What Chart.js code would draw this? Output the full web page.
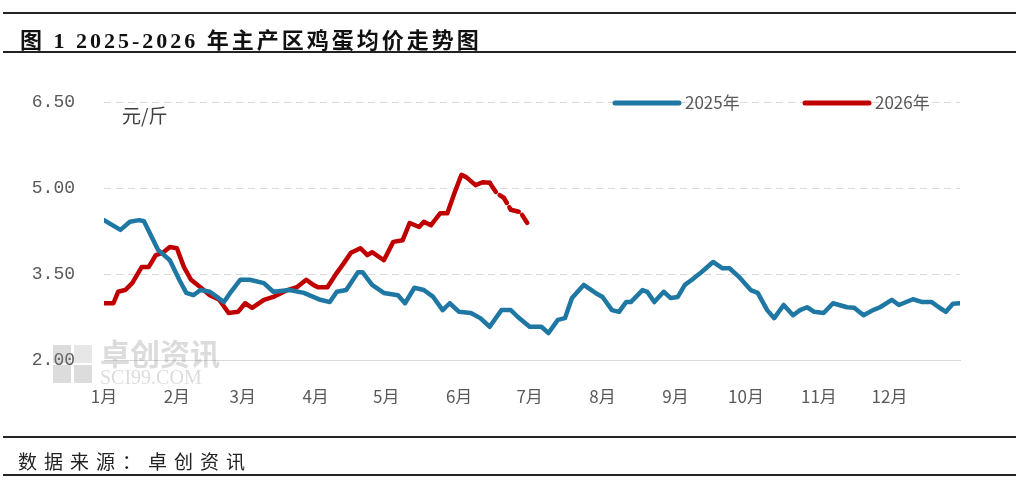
<!DOCTYPE html>
<html>
<head>
<meta charset="utf-8">
<script src="https://cdn.jsdelivr.net/npm/chart.js@4.4.1/dist/chart.umd.min.js"></script>
<style>
  body { margin: 0; background: #fff; }
  #wrap { position: relative; width: 1016px; height: 484px; overflow: hidden; }
  #wrap canvas { position: absolute; left: 0; top: 0; }
  .rule { position: absolute; left: 3px; right: 0; height: 2px; background: #222; }
  #title { position: absolute; left: 20px; top: 22px; font: bold 22px "Liberation Serif", "Noto Sans CJK SC", serif; letter-spacing: 3px; color: #111; }
  #source { position: absolute; left: 18px; top: 447px; font: 19px "Noto Sans CJK SC", sans-serif; letter-spacing: 7px; color: #222; }
</style>
</head>
<body>
<div id="wrap">
  <canvas id="myChart" width="1016" height="484"></canvas>
  <div class="rule" style="top:12px"></div>
  <div id="title">图 1 2025-2026 年主产区鸡蛋均价走势图</div>
  <div class="rule" style="top:51px"></div>
  <div class="rule" style="top:436px"></div>
  <div id="source">数据来源：卓创资讯</div>
  <div class="rule" style="top:474px"></div>
</div>
<script>
// 月份刻度（按一年中的第几天）
const monthStarts = [0, 31, 59, 90, 120, 151, 181, 212, 243, 273, 304, 334];
const monthLabels = ['1月','2月','3月','4月','5月','6月','7月','8月','9月','10月','11月','12月'];
const yTicks = [2.00, 3.50, 5.00, 6.50];

// 2025年 主产区鸡蛋均价 元/斤
const days2025 = [0,7,11,15,17,23,28,32,35,38,41,45,48,51,54,58,62,68,72,79,85,92,96,99,103,108,110,114,119,125,128,132,136,140,144,147,151,156,160,164,169,173,176,181,186,189,193,196,199,204,209,212,216,219,222,224,229,231,234,238,241,244,247,250,254,259,263,266,270,275,278,282,285,289,293,296,299,302,306,310,316,319,323,327,330,335,338,344,348,352,355,358,361,364];
const prices2025 = [4.44,4.27,4.41,4.44,4.42,3.92,3.74,3.40,3.17,3.13,3.22,3.19,3.10,3.01,3.19,3.40,3.40,3.34,3.19,3.22,3.17,3.05,3.01,3.19,3.22,3.53,3.53,3.31,3.17,3.13,2.99,3.26,3.22,3.10,2.87,2.99,2.84,2.82,2.73,2.58,2.87,2.87,2.75,2.58,2.58,2.47,2.70,2.73,3.08,3.31,3.17,3.10,2.87,2.84,3.01,3.01,3.22,3.19,3.01,3.19,3.08,3.10,3.31,3.40,3.53,3.71,3.60,3.60,3.45,3.22,3.17,2.87,2.73,2.96,2.78,2.87,2.92,2.84,2.82,2.99,2.92,2.91,2.78,2.87,2.92,3.05,2.96,3.06,3.01,3.01,2.92,2.84,2.98,2.99];

// 2026年（164天之后为预测，虚线）
const days2026 = [0,4,6,9,12,16,19,22,25,28,31,34,37,41,45,49,53,57,60,63,68,72,78,82,86,89,91,95,99,102,105,109,112,114,119,123,127,130,134,136,139,143,146,149,152,154,158,161,164,167,170,173,177,180];
const prices2026 = [2.99,2.99,3.19,3.22,3.34,3.62,3.62,3.83,3.87,3.97,3.95,3.62,3.40,3.27,3.13,3.05,2.82,2.84,2.99,2.91,3.05,3.10,3.22,3.27,3.40,3.31,3.27,3.27,3.52,3.69,3.87,3.95,3.83,3.88,3.74,4.06,4.09,4.39,4.32,4.41,4.35,4.56,4.56,4.91,5.23,5.19,5.05,5.10,5.09,4.91,4.83,4.62,4.58,4.39];
const forecastFrom = 164;

const blue = '#1f77a3';
const red = '#c00000';

const extras = {
  id: 'extras',
  afterDatasetsDraw(chart) {
    const ctx = chart.ctx;
    const area = chart.chartArea;
    ctx.save();
    // 单位
    ctx.fillStyle = '#404040';
    ctx.font = '19px "Noto Sans CJK SC", sans-serif';
    ctx.textBaseline = 'middle';
    ctx.fillText('元/斤', area.left + 18, area.top + 14);
    // 图例
    let lx = 615;
    const ly = area.top + 1;
    chart.data.datasets.forEach(ds => {
      ctx.strokeStyle = ds.borderColor;
      ctx.lineWidth = 5;
      ctx.lineCap = 'round';
      ctx.beginPath();
      ctx.moveTo(lx, ly);
      ctx.lineTo(lx + 64, ly);
      ctx.stroke();
      ctx.fillStyle = '#595959';
      ctx.font = '17px "Noto Sans CJK SC", sans-serif';
      ctx.fillText(ds.label, lx + 70, ly);
      lx += 190;
    });
    // 水印
    ctx.globalAlpha = 0.3;
    ctx.fillStyle = '#8c8c8c';
    ctx.fillRect(53, 345, 18, 18);
    ctx.fillRect(53, 365, 18, 18);
    ctx.fillRect(74, 365, 18, 18);
    ctx.fillStyle = '#b0b0b0';
    ctx.fillRect(74, 345, 18, 18);
    ctx.fillStyle = '#8c8c8c';
    ctx.font = 'bold 30px "Noto Sans CJK SC", sans-serif';
    ctx.fillText('卓创资讯', 100, 354);
    ctx.font = '20px "Liberation Serif", serif';
    ctx.fillText('SCI99.COM', 100, 379);
    ctx.restore();
  }
};

const config = {
  type: 'line',
  data: {
    datasets: [
      {
        label: '2025年',
        data: days2025.map((d, i) => ({x: d, y: prices2025[i]})),
        borderColor: blue,
        borderWidth: 4.5,
        pointRadius: 0,
        tension: 0,
        borderJoinStyle: 'round',
        borderCapStyle: 'round'
      },
      {
        label: '2026年',
        data: days2026.map((d, i) => ({x: d, y: prices2026[i]})),
        borderColor: red,
        borderWidth: 4.5,
        pointRadius: 0,
        tension: 0,
        borderJoinStyle: 'round',
        borderCapStyle: 'round',
        segment: {
          borderDash: c => c.p0.parsed.x >= forecastFrom ? [11, 5] : undefined
        }
      }
    ]
  },
  options: {
    responsive: false,
    animation: false,
    layout: { padding: { left: 0, right: 56, top: 102, bottom: 80 } },
    plugins: { legend: { display: false }, tooltip: { enabled: false } },
    scales: {
      x: {
        type: 'linear',
        min: 0,
        max: 364,
        afterBuildTicks: s => { s.ticks = monthStarts.map(v => ({value: v})); },
        afterFit: s => { s.height = 44; },
        grid: { display: false },
        border: { display: true, color: '#d9d9d9', width: 1 },
        ticks: {
          autoSkip: false,
          maxRotation: 0,
          padding: 18,
          color: '#595959',
          font: { size: 17, family: '"Noto Sans CJK SC", sans-serif' },
          callback: (v, i) => monthLabels[i]
        }
      },
      y: {
        min: 2,
        max: 6.5,
        afterBuildTicks: s => { s.ticks = yTicks.map(v => ({value: v})); },
        afterFit: s => { s.width = 104; },
        grid: { color: '#d9d9d9', drawTicks: false, lineWidth: 1 },
        border: { display: false, dash: [7, 5] },
        ticks: {
          padding: 29,
          color: '#595959',
          font: { size: 18, family: '"Liberation Mono", monospace' },
          callback: v => v.toFixed(2)
        }
      }
    }
  },
  plugins: [extras]
};

const myChart = new Chart(document.getElementById('myChart'), config);
</script>
</body>
</html>
